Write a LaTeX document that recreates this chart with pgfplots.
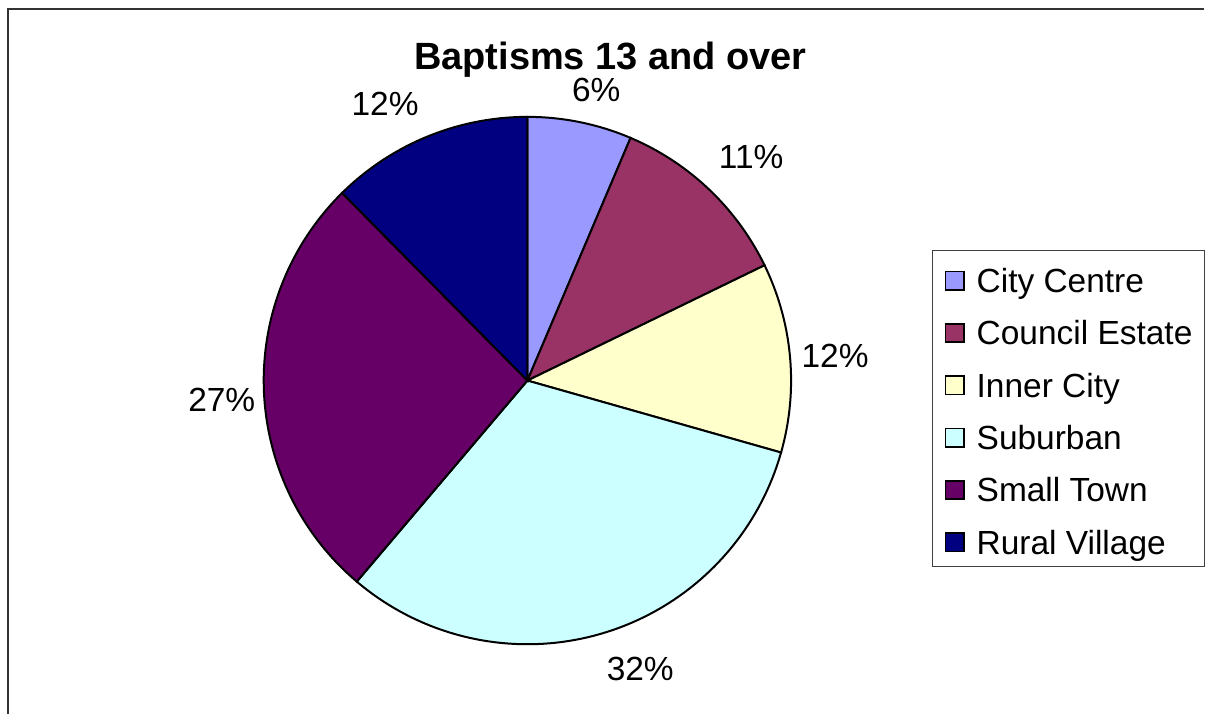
\documentclass[border=0pt]{standalone}
\usepackage{pgfplots}
\pgfplotsset{compat=1.18}
\usepackage{fontspec}
\setmainfont{Liberation Sans}
\definecolor{cCity}{HTML}{9999FF}
\definecolor{cCouncil}{HTML}{993366}
\definecolor{cInner}{HTML}{FFFFCC}
\definecolor{cSub}{HTML}{CCFFFF}
\definecolor{cSmall}{HTML}{660066}
\definecolor{cRural}{HTML}{000080}
% slice values (percent)
\def\vA{6.4}\def\vB{11.4}\def\vC{11.6}\def\vD{31.8}\def\vE{26.4}\def\vF{12.4}
\pgfmathsetmacro\aA{0}
\pgfmathsetmacro\aB{\aA+3.6*\vA}
\pgfmathsetmacro\aC{\aB+3.6*\vB}
\pgfmathsetmacro\aD{\aC+3.6*\vC}
\pgfmathsetmacro\aE{\aD+3.6*\vD}
\pgfmathsetmacro\aF{\aE+3.6*\vE}
\pgfmathsetmacro\aG{\aF+3.6*\vF}
\newcommand{\lblfont}{\fontsize{16.75}{20}\selectfont}
\begin{document}
\begin{tikzpicture}
\begin{axis}[
  width=602.5pt, height=357.5pt, scale only axis,
  xmin=0, xmax=1205, ymin=0, ymax=715,
  hide axis, clip=false,
  legend style={at={(axis cs:933,465)}, anchor=north west, draw=black!75, line width=0.6pt,
    fill=white, inner xsep=6pt, inner ysep=0.5pt, row sep=0pt, column sep=6pt,
    font=\lblfont,
    nodes={inner sep=0pt, text height=20.6pt, text depth=5.6pt, anchor=base west}},
  legend cell align=left,
  legend image code/.code={\filldraw[#1, draw=black, line width=0.9pt] (0pt,1.3pt) rectangle (9.2pt,10.5pt);},
]
\path (axis cs:0,0) rectangle (axis cs:1205,715);
\addplot[fill=cCity, draw=black, line width=1pt, domain=\aA:\aB, samples=40, variable=\t] ({528+264*sin(\t)},{334+264*cos(\t)}) -- (axis cs:528,334) -- cycle;
\addplot[fill=cCouncil, draw=black, line width=1pt, domain=\aB:\aC, samples=40, variable=\t] ({528+264*sin(\t)},{334+264*cos(\t)}) -- (axis cs:528,334) -- cycle;
\addplot[fill=cInner, draw=black, line width=1pt, domain=\aC:\aD, samples=40, variable=\t] ({528+264*sin(\t)},{334+264*cos(\t)}) -- (axis cs:528,334) -- cycle;
\addplot[fill=cSub, draw=black, line width=1pt, domain=\aD:\aE, samples=80, variable=\t] ({528+264*sin(\t)},{334+264*cos(\t)}) -- (axis cs:528,334) -- cycle;
\addplot[fill=cSmall, draw=black, line width=1pt, domain=\aE:\aF, samples=80, variable=\t] ({528+264*sin(\t)},{334+264*cos(\t)}) -- (axis cs:528,334) -- cycle;
\addplot[fill=cRural, draw=black, line width=1pt, domain=\aF:\aG, samples=40, variable=\t] ({528+264*sin(\t)},{334+264*cos(\t)}) -- (axis cs:528,334) -- cycle;
\legend{City Centre, Council Estate, Inner City, Suburban, Small Town, Rural Village}
% frame (top and left edges visible)
\draw[black!80, line width=1.2pt] (axis cs:8,0) -- (axis cs:8,706) -- (axis cs:1205,706);
% title
\node[font=\bfseries\fontsize{19}{22}\selectfont, anchor=base] at (axis cs:611,645) {Baptisms 13 and over};
% data labels
\node[font=\lblfont] at (axis cs:597,625) {6\%};
\node[font=\lblfont] at (axis cs:752,558) {11\%};
\node[font=\lblfont] at (axis cs:836,359) {12\%};
\node[font=\lblfont] at (axis cs:641,45) {32\%};
\node[font=\lblfont] at (axis cs:222,315) {27\%};
\node[font=\lblfont] at (axis cs:385.5,610.5) {12\%};
\end{axis}
\end{tikzpicture}
\end{document}
